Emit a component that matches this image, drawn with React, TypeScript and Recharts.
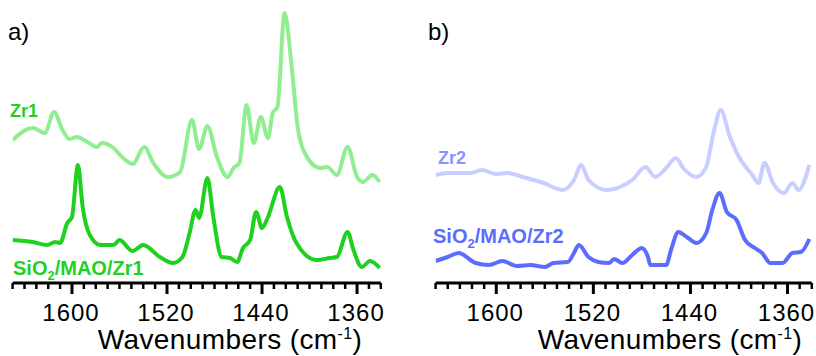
import React from 'react';
import { LineChart, Line, XAxis, YAxis } from 'recharts';

// ---- Data (wavenumber in cm-1, intensity in arbitrary offset units) ----
const zr1Wn = [1650, 1633, 1623, 1615, 1608, 1602, 1596, 1587, 1579, 1575, 1565, 1557, 1549, 1539, 1532, 1519, 1509, 1499, 1493, 1486, 1478, 1469, 1464, 1459, 1453, 1447, 1441, 1435, 1431, 1427, 1421, 1415, 1410, 1404, 1391, 1385, 1377, 1368, 1360, 1355, 1347, 1341];
const zr1Int = [143, 155, 150, 171, 153, 144, 146, 141, 136, 140, 135, 125, 119, 136, 121, 106, 111, 163, 134, 157, 126, 106, 115, 120, 178, 140, 166, 145, 170, 176, 270, 216, 156, 130, 115, 116, 108, 136, 106, 101, 108, 101];

const sZr1Wn = [1650, 1633, 1621, 1614, 1610, 1604, 1600, 1595, 1591, 1585, 1576, 1565, 1560, 1549, 1540, 1526, 1515, 1507, 1501, 1496, 1493, 1486, 1481, 1474, 1467, 1461, 1456, 1450, 1445, 1440, 1435, 1425, 1419, 1411, 1394, 1383, 1377, 1368, 1363, 1356, 1349, 1341];
const sZr1Int = [43, 41, 38, 41, 40, 60, 66, 118, 76, 48, 38, 38, 43, 32, 38, 26, 20, 26, 50, 73, 65, 105, 66, 26, 25, 21, 35, 43, 71, 55, 66, 96, 66, 40, 23, 25, 26, 51, 33, 16, 22, 15];

const zr2Wn = [1650, 1640, 1621, 1612, 1600, 1591, 1578, 1561, 1545, 1536, 1530, 1524, 1509, 1498, 1488, 1477, 1469, 1460, 1452, 1446, 1435, 1427, 1421, 1415, 1408, 1400, 1389, 1384, 1379, 1372, 1363, 1356, 1351, 1342];
const zr2Int = [108, 110, 110, 113, 109, 110, 106, 100, 93, 103, 118, 103, 93, 96, 103, 116, 106, 115, 125, 115, 106, 116, 150, 173, 148, 126, 108, 100, 120, 100, 90, 100, 93, 118];

const sZr2Wn = [1650, 1640, 1631, 1617, 1606, 1595, 1583, 1572, 1560, 1553, 1541, 1536, 1532, 1524, 1516, 1507, 1503, 1496, 1488, 1480, 1475, 1473, 1460, 1456, 1450, 1443, 1435, 1427, 1422, 1416, 1410, 1402, 1395, 1387, 1381, 1374, 1364, 1356, 1349, 1342];
const sZr2Int = [22, 26, 30, 20, 18, 22, 17, 18, 16, 20, 21, 30, 38, 26, 21, 20, 24, 20, 28, 35, 26, 18, 18, 33, 51, 46, 40, 50, 73, 90, 71, 63, 43, 35, 30, 20, 20, 30, 31, 44];

const xTicks = [1650, 1640, 1630, 1620, 1610, 1600, 1590, 1580, 1570, 1560, 1550, 1540, 1530, 1520, 1510, 1500, 1490, 1480, 1470, 1460, 1450, 1440, 1430, 1420, 1410, 1400, 1390, 1380, 1370, 1360, 1350, 1340];
const majorTicks = [1600, 1520, 1440, 1360];

const FONT = "'Liberation Sans', Arial, sans-serif";

const toData = (wn: number[], v: number[]) => wn.map((w, i) => ({ wn: w, v: v[i] }));

const Tick = (props: any) => {
  const { x, y, payload } = props;
  const major = majorTicks.includes(payload.value);
  return (
    <g>
      <line x1={x} x2={x} y1={y} y2={y + (major ? 11 : 6)} stroke="#000" strokeWidth={major ? 3 : 2.5} />
      {major && (
        <text x={x - 1} y={y + 38} textAnchor="middle" fontSize={24} letterSpacing={1} fontFamily={FONT} fill="#000">
          {payload.value}
        </text>
      )}
    </g>
  );
};

type PanelProps = {
  upper: { wn: number; v: number }[];
  lower: { wn: number; v: number }[];
  upperColor: string;
  lowerColor: string;
  marginLeft: number;
  marginRight: number;
};

const Panel = ({ upper, lower, upperColor, lowerColor, marginLeft, marginRight }: PanelProps) => (
  <LineChart width={408} height={356} margin={{ top: 0, right: marginRight, bottom: 0, left: marginLeft }} style={{ overflow: 'visible' }}>
    <XAxis
      type="number"
      dataKey="wn"
      domain={[1340, 1650]}
      reversed
      allowDataOverflow
      ticks={xTicks}
      interval={0}
      tickSize={0}
      tickMargin={0}
      tickLine={false}
      tick={<Tick />}
      axisLine={{ stroke: '#000', strokeWidth: 3 }}
      height={73}
    />
    <YAxis type="number" domain={[0, 283]} hide allowDataOverflow />
    <Line data={upper} dataKey="v" type="monotone" stroke={upperColor} strokeWidth={4} dot={false} isAnimationActive={false} />
    <Line data={lower} dataKey="v" type="monotone" stroke={lowerColor} strokeWidth={4} dot={false} isAnimationActive={false} />
  </LineChart>
);

export default function App() {
  const green = '#1fd11f';
  const lightGreen = '#90ee90';
  const blue = '#5c6cff';
  const lightBlue = '#c8ceff';
  const labelBlue = '#8a96ff';
  return (
    <div style={{ position: 'absolute', left: 0, top: 0, width: 816, height: 356, background: '#fff' }}>
      <div style={{ position: 'absolute', left: 0, top: 0 }}>
        <Panel upper={toData(zr1Wn, zr1Int)} lower={toData(sZr1Wn, sZr1Int)} upperColor={lightGreen} lowerColor={green} marginLeft={12.6} marginRight={27.2} />
      </div>
      <div style={{ position: 'absolute', left: 408, top: 0 }}>
        <Panel upper={toData(zr2Wn, zr2Int)} lower={toData(sZr2Wn, sZr2Int)} upperColor={lightBlue} lowerColor={blue} marginLeft={27.6} marginRight={4.2} />
      </div>
      <svg width={816} height={356} style={{ position: 'absolute', left: 0, top: 0, pointerEvents: 'none' }} fontFamily={FONT}>
        <text x={8} y={40} fontSize={24} fill="#000">a)</text>
        <text x={428} y={40} fontSize={24} fill="#000">b)</text>
        <text x={10} y={117} fontSize={18} fontWeight="bold" fill={green}>Zr1</text>
        <text x={13} y={275} fontSize={20} fontWeight="bold" fill={green}>
          SiO<tspan fontSize={13} dy={5}>2</tspan><tspan dy={-5}>/MAO/Zr1</tspan>
        </text>
        <text x={438} y={164} fontSize={18} fontWeight="bold" fill={labelBlue}>Zr2</text>
        <text x={433} y={243} fontSize={20} fontWeight="bold" fill={blue}>
          SiO<tspan fontSize={13} dy={5}>2</tspan><tspan dy={-5}>/MAO/Zr2</tspan>
        </text>
        <text x={230} y={349} fontSize={28} letterSpacing={0.4} textAnchor="middle" fill="#000">
          Wavenumbers (cm<tspan fontSize={16} dy={-10}>-1</tspan><tspan dy={10}>)</tspan>
        </text>
        <text x={670} y={349} fontSize={28} letterSpacing={0.4} textAnchor="middle" fill="#000">
          Wavenumbers (cm<tspan fontSize={16} dy={-10}>-1</tspan><tspan dy={10}>)</tspan>
        </text>
      </svg>
    </div>
  );
}
